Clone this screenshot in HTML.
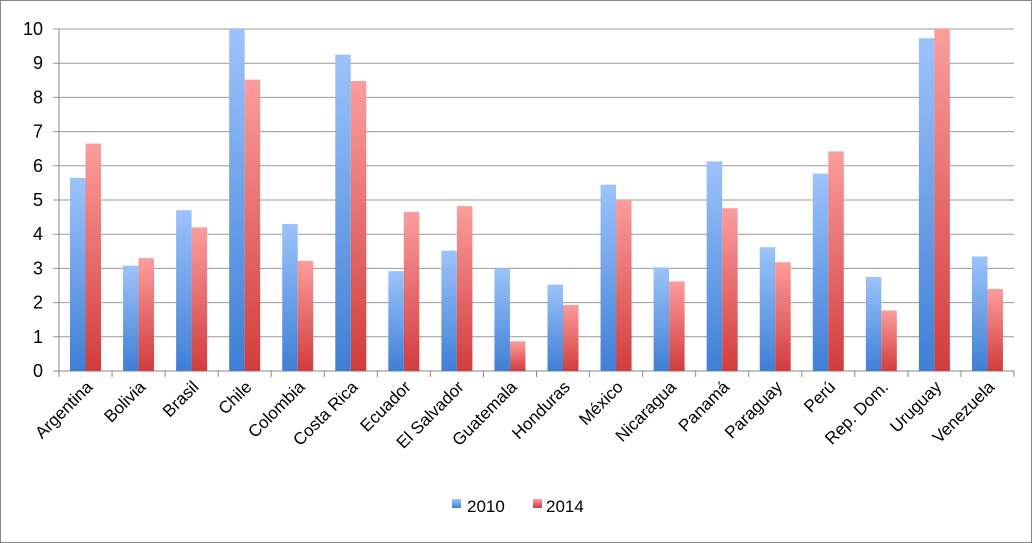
<!DOCTYPE html>
<html><head><meta charset="utf-8"><style>
html,body{margin:0;padding:0;background:#fff;}
svg{display:block;font-family:"Liberation Sans",sans-serif;}
</style></head><body>
<svg id="chart" width="1032" height="543" viewBox="0 0 1032 543">
<defs>
<linearGradient id="gb" x1="0" y1="0" x2="0" y2="1"><stop offset="0" stop-color="#9dc3fb"/><stop offset="1" stop-color="#3f7fd6"/></linearGradient>
<linearGradient id="gr" x1="0" y1="0" x2="0" y2="1"><stop offset="0" stop-color="#fb9d9d"/><stop offset="1" stop-color="#d23c3c"/></linearGradient>
</defs>
<rect x="0.5" y="0.5" width="1031" height="542" fill="#fff" stroke="#888"/>
<g id="grid"></g><g id="bars"></g><g id="axes"></g>
<g>
<rect x="452" y="499" width="9" height="9" fill="url(#gb)"/>
<text x="467" y="512" font-size="17" fill="#000">2010</text>
<rect x="533" y="499" width="9" height="9" fill="url(#gr)"/>
<text x="546" y="512" font-size="17" fill="#000">2014</text>
</g>
</svg>
<script>
const categories=["Argentina","Bolivia","Brasil","Chile","Colombia","Costa Rica","Ecuador","El Salvador","Guatemala","Honduras","México","Nicaragua","Panamá","Paraguay","Perú","Rep. Dom.","Uruguay","Venezuela"];
const values2010=[5.65,3.08,4.7,10.0,4.3,9.25,2.92,3.52,3.0,2.53,5.45,3.03,6.13,3.62,5.77,2.75,9.73,3.35];
const values2014=[6.65,3.3,4.2,8.52,3.22,8.48,4.65,4.82,0.87,1.93,5.0,2.62,4.76,3.18,6.42,1.77,10.0,2.4];
const yTicks=[0,1,2,3,4,5,6,7,8,9,10];
const NS="http://www.w3.org/2000/svg";
const x0=59,x1=1014,y0=371,yTop=29,yMax=10;
const bw=(x1-x0)/categories.length;
const y=v=>y0-(v/yMax)*(y0-yTop);
function mk(tag,attrs,parent){const e=document.createElementNS(NS,tag);for(const k in attrs)e.setAttribute(k,attrs[k]);parent.appendChild(e);return e;}
const grid=document.getElementById('grid'),bars=document.getElementById('bars'),axes=document.getElementById('axes');
yTicks.forEach(t=>{
  const l=mk('line',{x1:x0-6,x2:x1,y1:y(t),y2:y(t),stroke:t===0?'#888':'#999','stroke-width':1},grid);
  
  
  const tx=mk('text',{x:x0-16,y:y(t)+6,'text-anchor':'end','font-size':18,fill:'#000'},axes);
  tx.textContent=t;
  
  
});
const ax=mk('line',{x1:x0,x2:x0,y1:yTop,y2:y0,stroke:'#888'},axes);


categories.forEach((c,i)=>{
  const cx=x0+i*bw;
  const tk=mk('line',{x1:cx,x2:cx,y1:y0,y2:y0+6,stroke:'#888'},axes);
  
  
  const bx=cx+11;
  const b1=mk('rect',{x:bx,y:y(values2010[i]),width:15.5,height:y0-y(values2010[i]),fill:'url(#gb)'},bars);
  
  
  const b2=mk('rect',{x:bx+15.5,y:y(values2014[i]),width:15.5,height:y0-y(values2014[i]),fill:'url(#gr)'},bars);
  
  
  const lx=cx+bw/2+8,ly=y0+17;
  const t=mk('text',{x:lx,y:ly,'text-anchor':'end','font-size':17,fill:'#000',transform:`rotate(-45 ${lx} ${ly})`},axes);
  t.textContent=c;
  
  
});
const last=mk('line',{x1:x1,x2:x1,y1:y0,y2:y0+6,stroke:'#888'},axes);


</script>
</body></html>
